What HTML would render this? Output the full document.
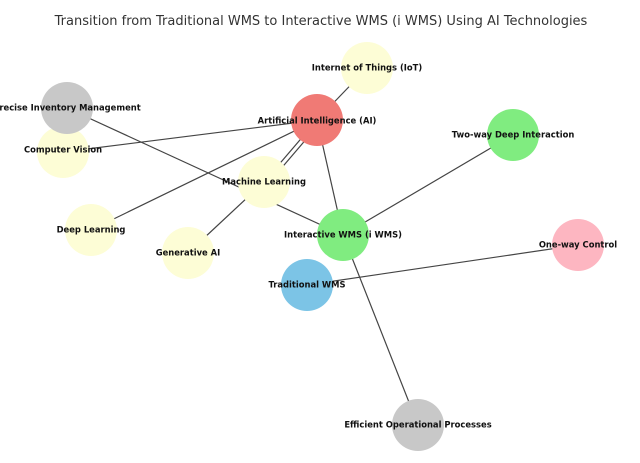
<!DOCTYPE html>
<html><head><meta charset="utf-8"><style>
html,body{margin:0;padding:0;background:#fff;}
svg{display:block}
.l{font-family:"DejaVu Sans","Liberation Sans",sans-serif;font-weight:bold;font-size:8.4px;fill:#111;text-anchor:middle;dominant-baseline:middle}
</style></head><body>
<svg width="640" height="463" viewBox="0 0 640 463" xmlns="http://www.w3.org/2000/svg">
<rect width="640" height="463" fill="#fff"/>
<text x="321" y="25" font-family="DejaVu Sans, Liberation Sans, sans-serif" font-size="13" fill="#333" text-anchor="middle">Transition from Traditional WMS to Interactive WMS (i WMS) Using AI Technologies</text>
<g stroke="#444" stroke-width="1.2" fill="none">
<line x1="367" y1="68" x2="317" y2="120"/>
<line x1="317" y1="120" x2="63" y2="152"/>
<line x1="317" y1="120" x2="91" y2="230"/>
<line x1="317" y1="120" x2="264" y2="182"/>
<line x1="320" y1="123" x2="267" y2="185"/>
<line x1="317" y1="120" x2="343" y2="235"/>
<line x1="67" y1="108" x2="343" y2="235"/>
<line x1="188" y1="253" x2="264" y2="182"/>
<line x1="513" y1="135" x2="343" y2="235"/>
<line x1="578" y1="245" x2="307" y2="285"/>
<line x1="343" y1="235" x2="418" y2="425"/>
</g>
<g stroke="none">
<circle cx="367" cy="68" r="26" fill="#fdfdd6"/>
<circle cx="63" cy="152" r="26" fill="#fdfdd6"/>
<circle cx="67" cy="108" r="26" fill="#c8c8c8"/>
<circle cx="317" cy="120" r="26" fill="#f07a75"/>
<circle cx="513" cy="135" r="26" fill="#80ec80"/>
<circle cx="264" cy="182" r="26" fill="#fdfdd6"/>
<circle cx="91" cy="230" r="26" fill="#fdfdd6"/>
<circle cx="188" cy="253" r="26" fill="#fdfdd6"/>
<circle cx="343" cy="235" r="26" fill="#80ec80"/>
<circle cx="578" cy="245" r="26" fill="#fdb6c1"/>
<circle cx="307" cy="285" r="26" fill="#7cc4e6"/>
<circle cx="418" cy="425" r="26" fill="#c8c8c8"/>
</g>
<text class="l" x="367" y="68">Internet of Things (IoT)</text>
<text class="l" x="63" y="150">Computer Vision</text>
<text class="l" x="67" y="108">Precise Inventory Management</text>
<text class="l" x="317" y="121">Artificial Intelligence (AI)</text>
<text class="l" x="513" y="135">Two-way Deep Interaction</text>
<text class="l" x="264" y="182">Machine Learning</text>
<text class="l" x="91" y="230">Deep Learning</text>
<text class="l" x="188" y="253">Generative AI</text>
<text class="l" x="343" y="235">Interactive WMS (i WMS)</text>
<text class="l" x="578" y="245">One-way Control</text>
<text class="l" x="307" y="285">Traditional WMS</text>
<text class="l" x="418" y="425">Efficient Operational Processes</text>
</svg>
</body></html>
